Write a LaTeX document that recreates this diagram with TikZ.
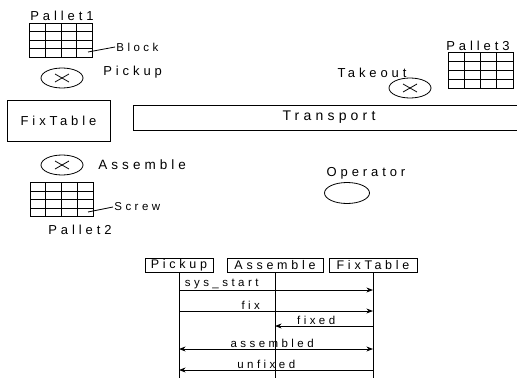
\documentclass[tikz,border=0pt]{standalone}
\usepackage{fontspec}
\setmainfont{Liberation Sans}[LetterSpace=30]
\usetikzlibrary{shapes.geometric, arrows.meta, positioning, calc}

\begin{document}
\begin{tikzpicture}[
    x=1pt, y=-1pt,
    >=Stealth,
    line width=0.8pt,
    every node/.style={
        font=\fontsize{13}{15}\selectfont,
        inner sep=1pt
    },
    tag/.style={
        anchor=west
    },
    small/.style={
        font=\fontsize{11.5}{13}\selectfont
    },
    box/.style={
        draw,
        rectangle
    },
    hdr/.style={
        draw,
        rectangle,
        minimum height=14pt,
        font=\fontsize{12.5}{14}\selectfont
    },
    xmark/.style={
        ellipse,
        draw,
        minimum width=42pt,
        minimum height=20pt,
        path picture={
            \draw ($(path picture bounding box.center)+(-7,-4)$) -- ($(path picture bounding box.center)+(7,4)$);
            \draw ($(path picture bounding box.center)+(-7,4)$) -- ($(path picture bounding box.center)+(7,-4)$);
        }
    },
    pallet/.style={
        draw,
        rectangle,
        inner sep=0pt,
        minimum width=63pt,
        minimum height=34pt,
        path picture={
            \foreach \f in {0.25,0.5,0.75} {
                \draw ($(path picture bounding box.north west)!\f!(path picture bounding box.north east)$) -- ($(path picture bounding box.south west)!\f!(path picture bounding box.south east)$);
                \draw ($(path picture bounding box.north west)!\f!(path picture bounding box.south west)$) -- ($(path picture bounding box.north east)!\f!(path picture bounding box.south east)$);
            }
        }
    },
    msg/.style={
        ->,
        line width=0.8pt
    }
]
\useasboundingbox (0,0) rectangle (517,378);

% Pallets
\node (pal1txt) at (62,16) {Pallet1};
\node[pallet] (pal1) at (61,40) {};
\coordinate (blk) at (88,52);
\node[tag, small] (blktxt) at (115,47) {Block};
\draw (blk) -- (blktxt.west);

\node[pallet] (pal2) at (61.5,199.5) {};
\coordinate (scr) at (88,212);
\node[tag, small] (scrtxt) at (113,207) {Screw};
\draw (scr) -- (scrtxt.west);
\node (pal2txt) at (80,230) {Pallet2};

\node (pal3txt) at (478,46) {Pallet3};
\node[pallet, minimum width=65pt, minimum height=36pt] (pal3) at (480.5,70) {};

% Robots
\node[xmark] (pick) at (62,78) {};
\node[tag] (picktxt) at (102,72) {Pickup};

\node[xmark] (asm) at (62,165) {};
\node[tag, font=\fontsize{13.5}{15}\selectfont] (asmtxt) at (97,165) {Assemble};

\node (takeouttxt) at (372,73) {Takeout};
\node[xmark] (takeout) at (410,88) {};

\node (optxt) at (366,173) {Operator};
\node[ellipse, draw, minimum width=45pt, minimum height=21pt] (op) at (347,193) {};

% Table and conveyor
\node[box, minimum width=103pt, minimum height=41pt] (fixt) at (58.5,120.5) {FixTable};
\node[box, minimum width=392pt, minimum height=25pt, font=\fontsize{14}{16}\selectfont] (trans) at (329,117.5) {Transport};

% Sequence chart
\node[hdr, minimum width=68pt] (hPick) at (179,265) {Pickup};
\node[hdr, minimum width=96pt] (hAsm) at (275,265) {Assemble};
\node[hdr, minimum width=88pt] (hFix) at (373,265) {FixTable};

\coordinate (ePick) at (hPick |- 0,378);
\coordinate (eAsm) at (hAsm |- 0,378);
\coordinate (eFix) at (hFix |- 0,378);
\draw (hPick) -- (ePick);
\draw (hAsm) -- (eAsm);
\draw (hFix) -- (eFix);

\draw[msg] (hPick |- 0,290) -- node[small, above, pos=0.22] {sys\_start} (hFix |- 0,290);
\draw[msg] (hPick |- 0,311) -- node[small, above, pos=0.37] {fix} (hFix |- 0,311);
\draw[msg] (hFix |- 0,326) -- node[small, above, pos=0.58] {fixed} (hAsm |- 0,326);
\draw[msg, <->] (hPick |- 0,349) -- node[small, above, pos=0.48] {assembled} (hFix |- 0,349);
\draw[msg] (hFix |- 0,370) -- node[small, above, pos=0.55] {unfixed} (hPick |- 0,370);

\end{tikzpicture}
\end{document}
